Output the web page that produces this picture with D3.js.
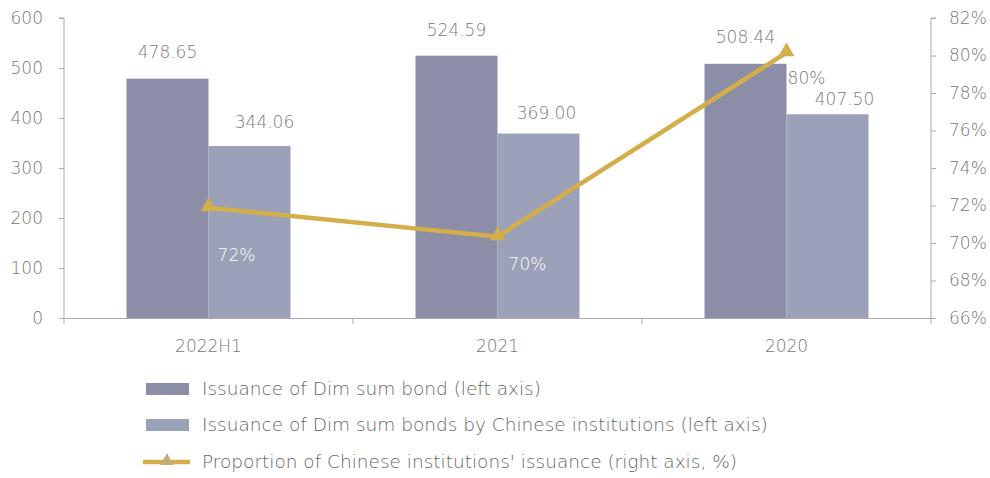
<!DOCTYPE html>
<html><head><meta charset="utf-8">
<script src="https://cdn.jsdelivr.net/npm/d3@7"></script>
<style>
body{margin:0;background:#fff;}
text{font-family:"DejaVu Sans",sans-serif;font-weight:200;fill:#777;}
</style></head>
<body><svg id="c" width="990" height="478"></svg>
<script>
const categories = ["2022H1","2021","2020"];
const dimSum = [478.65,524.59,508.44];
const chinese = [344.06,369.00,407.50];
const proportion = [71.88,70.34,80.15];
const leftTicks = [0,100,200,300,400,500,600];
const rightTicks = [66,68,70,72,74,76,78,80,82];
const legendLabels = ["Issuance of Dim sum bond (left axis)","Issuance of Dim sum bonds by Chinese institutions (left axis)","Proportion of Chinese institutions' issuance (right axis, %)"];

const C1="#8C8EA8", C2="#9AA1B8", CL="#D3AE4B", AX="#aaaaaa", TX="#7a7a7a", FF="'DejaVu Sans',sans-serif", FS="17px";
const svg=d3.select("#c");
const pL=64,pR=931,pT=18,pB=318;
const x=d3.scaleBand().domain(categories).range([pL,pR]);
const y=d3.scaleLinear().domain([0,600]).range([pB,pT]);
const y2=d3.scaleLinear().domain([66,82]).range([pB,pT]);
const bw=82;

// axes
const gl=svg.append("g").attr("transform",`translate(${pL},0)`)
  .call(d3.axisLeft(y).tickValues(leftTicks).tickSize(5).tickPadding(16));
const gr=svg.append("g").attr("transform",`translate(${pR},0)`)
  .call(d3.axisRight(y2).tickValues(rightTicks).tickSize(5).tickPadding(13).tickFormat(d=>d+"%"));
const gx=svg.append("g").attr("transform",`translate(0,${pB})`)
  .call(d3.axisBottom(x).tickSize(0).tickPadding(22));
[gl,gr,gx].forEach(g=>{g.selectAll("path,line").attr("stroke",AX);g.selectAll("text").attr("fill",TX).style("font-size",FS).style("font-family",FF).style("font-weight",200);});
gl.select(".domain").attr("d",`M-5,${pT}H0V${pB}`);
gr.select(".domain").attr("d",`M5,${pT}H0V${pB}`);
// category boundary ticks
const bounds=[pL].concat(categories.map(c=>x(c)+x.bandwidth()));
svg.append("g").selectAll("line").data(bounds).join("line")
  .attr("x1",d=>d).attr("x2",d=>d).attr("y1",pB).attr("y2",pB+6).attr("stroke",AX);

// bars
categories.forEach((c,i)=>{
  const cx=x(c)+x.bandwidth()/2;
  svg.append("rect").attr("x",cx-bw).attr("width",bw).attr("y",y(dimSum[i])).attr("height",pB-y(dimSum[i])).attr("fill",C1);
  svg.append("rect").attr("x",cx).attr("width",bw).attr("y",y(chinese[i])).attr("height",pB-y(chinese[i])).attr("fill",C2);
});
// line
const pts=categories.map((c,i)=>[x(c)+x.bandwidth()/2,y2(proportion[i])]);
svg.append("path").attr("d",d3.line()(pts)).attr("fill","none").attr("stroke",CL).attr("stroke-width",4.5);
const tri=d3.symbol().type(d3.symbolTriangle).size(110);
svg.selectAll(".m").data(pts).join("path").attr("d",tri).attr("transform",d=>`translate(${d[0]},${d[1]-1})`).attr("fill",CL);

// value labels
const dOff=[[0,-27],[0,-26],[0,-27]];
const cOff=[[15,-24],[8,-20],[17,-15]];
categories.forEach((c,i)=>{
  const cx=x(c)+x.bandwidth()/2;
  svg.append("text").attr("x",cx-bw/2+dOff[i][0]).attr("y",y(dimSum[i])+dOff[i][1]).attr("text-anchor","middle").attr("dy","0.35em").style("font-size",FS).style("fill",TX).text(dimSum[i].toFixed(2));
  svg.append("text").attr("x",cx+bw/2+cOff[i][0]).attr("y",y(chinese[i])+cOff[i][1]).attr("text-anchor","middle").attr("dy","0.35em").style("font-size",FS).style("fill",TX).text(chinese[i].toFixed(2));
});
const pOff=[[28,47,"#fff"],[30,27,"#fff"],[20,25,TX]];
pts.forEach((p,i)=>{
  svg.append("text").attr("x",p[0]+pOff[i][0]).attr("y",p[1]+pOff[i][1]).attr("text-anchor","middle").attr("dy","0.35em").style("font-size",FS).style("fill",pOff[i][2]).text(Math.round(proportion[i])+"%");
});

// legend
const ly=[389,425,462];
svg.append("rect").attr("x",146).attr("y",ly[0]-6).attr("width",43).attr("height",12).attr("fill",C1);
svg.append("rect").attr("x",146).attr("y",ly[1]-6).attr("width",43).attr("height",12).attr("fill",C2);
svg.append("line").attr("x1",143).attr("x2",190).attr("y1",ly[2]).attr("y2",ly[2]).attr("stroke",CL).attr("stroke-width",4.5);
svg.append("path").attr("d",d3.symbol().type(d3.symbolTriangle).size(80)).attr("transform",`translate(167,${ly[2]-1})`).attr("fill","#C2AE78");
legendLabels.forEach((t,i)=>svg.append("text").attr("x",202).attr("y",ly[i]).attr("dy","0.35em").style("font-size","18.5px").style("fill","#666").text(t));
</script></body></html>
